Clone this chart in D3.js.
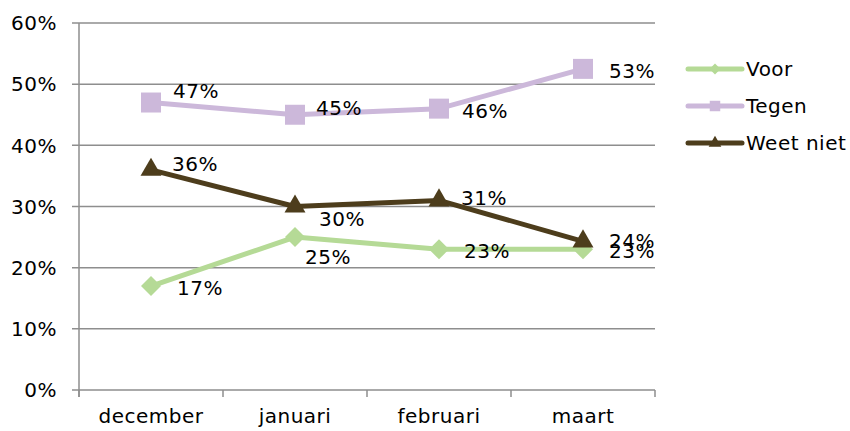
<!doctype html>
<html>
<head>
<meta charset="utf-8">
<script src="https://cdn.jsdelivr.net/npm/d3@7"></script>
<style>
  body { margin: 0; background: #fff; }
  svg text { font-family: "DejaVu Sans", Verdana, sans-serif; fill: #000; letter-spacing: 0.5px; }
</style>
</head>
<body>
<svg id="chart" width="850" height="431"></svg>
<script>
const months = ["december", "januari", "februari", "maart"];
const voor = [17, 25, 23, 23];
const tegen = [47, 45, 46, 52.5];
const weetNiet = [36, 30, 31, 24.3];
const yTicks = [0, 10, 20, 30, 40, 50, 60];

// diamond = square turned 45 degrees (wider than d3.symbolDiamond)
const series = [
  {name: "Voor", values: voor, color: "#b5da96", symbol: d3.symbolSquare, rot: 45, size: 200, legendSize: 60},
  {name: "Tegen", values: tegen, color: "#ccb8da", symbol: d3.symbolSquare, rot: 0, size: 400, legendSize: 110},
  {name: "Weet niet", values: weetNiet, color: "#4d3d1c", symbol: d3.symbolTriangle, rot: 0, size: 190, legendSize: 70}
];

// label nudges (px) so they sit where the original has them
const labelNudge = {
  "Voor": [[26, 2], [10, 20], [25, 1], [26, 1]],
  "Tegen": [[22, -12], [21, -7], [23, 2], [26, 2]],
  "Weet niet": [[21, -6], [24, 12], [22, -3], [26, -1]]
};

const svg = d3.select("#chart");
const plotLeft = 79, plotRight = 655, plotTop = 23, plotBottom = 390;

const x = d3.scaleBand().domain(months).range([plotLeft, plotRight]);
const y = d3.scaleLinear().domain([0, 60]).range([plotBottom, plotTop]);

// gridlines
svg.append("g")
  .selectAll("line")
  .data(yTicks)
  .join("line")
    .attr("x1", plotLeft - 7).attr("x2", plotRight)
    .attr("y1", d => y(d)).attr("y2", d => y(d))
    .attr("stroke", "#8e8e8e").attr("stroke-width", 1.5);

// y axis
svg.append("line")
  .attr("x1", plotLeft).attr("x2", plotLeft)
  .attr("y1", plotTop).attr("y2", plotBottom + 7)
  .attr("stroke", "#8e8e8e").attr("stroke-width", 1.5);

svg.append("g")
  .selectAll("text")
  .data(yTicks)
  .join("text")
    .attr("x", 57).attr("y", d => y(d))
    .attr("dy", "0.36em")
    .attr("text-anchor", "end")
    .attr("font-size", 20)
    .text(d => d + "%");

// x axis ticks and labels
const xTickPos = months.map(m => x(m)).concat([plotRight]);
svg.append("g")
  .selectAll("line")
  .data(xTickPos)
  .join("line")
    .attr("x1", d => d).attr("x2", d => d)
    .attr("y1", plotBottom).attr("y2", plotBottom + 7)
    .attr("stroke", "#8e8e8e").attr("stroke-width", 1.5);

svg.append("g")
  .selectAll("text")
  .data(months)
  .join("text")
    .attr("x", d => x(d) + x.bandwidth() / 2)
    .attr("y", 423)
    .attr("text-anchor", "middle")
    .attr("font-size", 20)
    .text(d => d);

const cx = i => x(months[i]) + x.bandwidth() / 2;
const line = d3.line().x((d, i) => cx(i)).y(d => y(d));

for (const s of series) {
  const g = svg.append("g");
  g.append("path")
    .attr("d", line(s.values))
    .attr("fill", "none")
    .attr("stroke", s.color)
    .attr("stroke-width", 5)
    .attr("stroke-linejoin", "round");
  g.selectAll("path.mark")
    .data(s.values)
    .join("path")
      .attr("class", "mark")
      .attr("transform", (d, i) => `translate(${cx(i)},${y(d)}) rotate(${s.rot})`)
      .attr("d", d3.symbol(s.symbol, s.size))
      .attr("fill", s.color);
}

// data labels drawn last so they sit on top
for (const s of series) {
  svg.append("g")
    .selectAll("text")
    .data(s.values)
    .join("text")
      .attr("x", (d, i) => cx(i) + labelNudge[s.name][i][0])
      .attr("y", (d, i) => y(d) + labelNudge[s.name][i][1])
      .attr("dy", "0.36em")
      .attr("font-size", 20)
      .text(d => Math.round(d) + "%");
}

// legend
const legend = svg.append("g")
  .selectAll("g")
  .data(series)
  .join("g")
    .attr("transform", (d, i) => `translate(688,${69 + i * 37})`);
legend.append("line")
  .attr("x1", 0).attr("x2", 54)
  .attr("stroke", d => d.color)
  .attr("stroke-width", 5)
  .attr("stroke-linecap", "round");
legend.append("path")
  .attr("transform", d => `translate(27,0) rotate(${d.rot})`)
  .attr("d", d => d3.symbol(d.symbol, d.legendSize)())
  .attr("fill", d => d.color);
legend.append("text")
  .attr("x", 58)
  .attr("dy", "0.36em")
  .attr("font-size", 20)
  .text(d => d.name);
</script>
</body>
</html>
